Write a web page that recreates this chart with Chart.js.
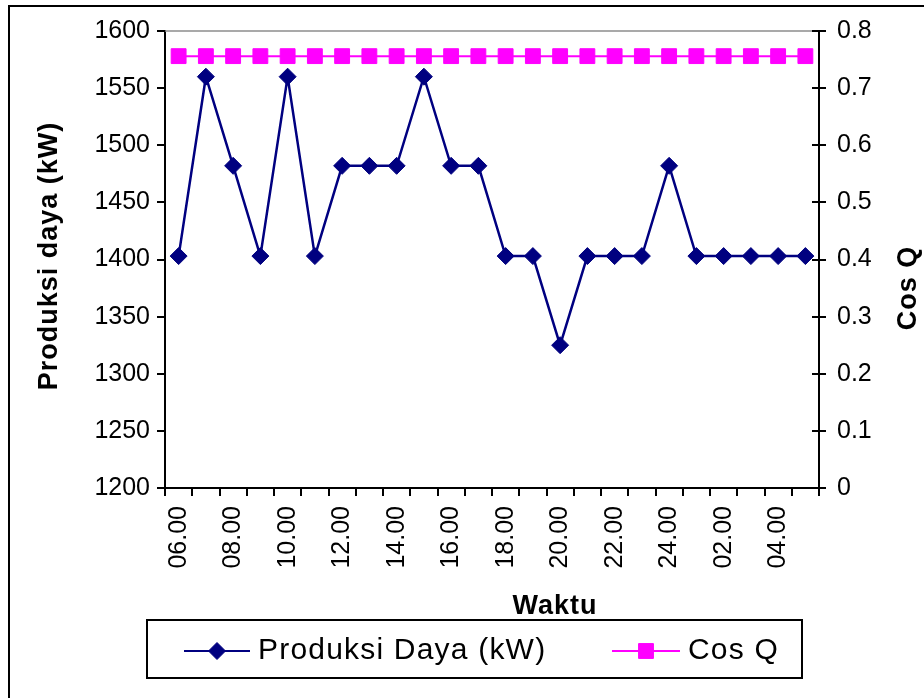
<!DOCTYPE html>
<html>
<head>
<meta charset="utf-8">
<title>Produksi Daya dan Cos Q</title>
<script src="https://cdn.jsdelivr.net/npm/chart.js@4/dist/chart.umd.min.js"></script>
<style>
  html, body { margin: 0; padding: 0; background: #ffffff; }
  #wrap { width: 924px; height: 698px; position: relative; }
</style>
</head>
<body>
<div id="wrap"><canvas id="chart" width="924" height="698"></canvas></div>
<script>
// Hourly time slots (06.00 through 05.00 the next morning)
const waktu = ['06.00','07.00','08.00','09.00','10.00','11.00','12.00','13.00',
               '14.00','15.00','16.00','17.00','18.00','19.00','20.00','21.00',
               '22.00','23.00','24.00','01.00','02.00','03.00','04.00','05.00'];

// Power production (kW)
const produksiDaya = [1403, 1560, 1482, 1403, 1560, 1403, 1482, 1482,
                      1482, 1560, 1482, 1482, 1403, 1403, 1325, 1403,
                      1403, 1403, 1482, 1403, 1403, 1403, 1403, 1403];

// Power factor
const cosQ = [0.756, 0.756, 0.756, 0.756, 0.756, 0.756, 0.756, 0.756,
              0.756, 0.756, 0.756, 0.756, 0.756, 0.756, 0.756, 0.756,
              0.756, 0.756, 0.756, 0.756, 0.756, 0.756, 0.756, 0.756];

// Axis ranges
const dayaMin = 1200, dayaMax = 1600, dayaStep = 50;
const cosMin = 0, cosMax = 0.8, cosStep = 0.1;

const FONT = "'Liberation Sans', Arial, Helvetica, sans-serif";
Chart.defaults.font.family = FONT;
Chart.defaults.color = '#000000';

function drawMarker(ctx, style, r, x, y) {
  if (style === 'rectRot') {
    ctx.moveTo(x - r, y);
    ctx.lineTo(x, y - r);
    ctx.lineTo(x + r, y);
    ctx.lineTo(x, y + r);
    ctx.closePath();
  } else {
    const s = Math.SQRT1_2 * r;
    ctx.rect(x - s, y - s, 2 * s, 2 * s);
  }
}

// Frame, top border, inner ticks on the right axis, axis titles and boxed legend
const decorPlugin = {
  id: 'decor',
  afterDraw(chart) {
    const ctx = chart.ctx;
    const area = chart.chartArea;
    ctx.save();

    // outer frame
    ctx.strokeStyle = '#000000';
    ctx.lineWidth = 2;
    ctx.strokeRect(9, 6, 940, 720);

    // grey top edge of the plot area
    ctx.strokeStyle = '#8c8c8c';
    ctx.lineWidth = 1.5;
    ctx.beginPath();
    ctx.moveTo(area.left, area.top);
    ctx.lineTo(area.right, area.top);
    ctx.stroke();

    // right axis ticks cross the axis line
    const y1 = chart.scales.y1;
    ctx.strokeStyle = '#000000';
    ctx.lineWidth = 2;
    ctx.beginPath();
    y1.ticks.forEach((t) => {
      const py = Math.round(y1.getPixelForValue(t.value));
      ctx.moveTo(area.right - 7, py);
      ctx.lineTo(area.right, py);
    });
    ctx.stroke();

    // axis titles
    ctx.fillStyle = '#000000';
    ctx.font = 'bold 27px ' + FONT;
    ctx.textAlign = 'center';
    ctx.textBaseline = 'middle';
    ctx.letterSpacing = '1px';
    ctx.fillText('Waktu', 555, 607);

    ctx.save();
    ctx.translate(50, 256);
    ctx.rotate(-Math.PI / 2);
    ctx.fillText('Produksi daya (kW)', 0, 0);
    ctx.restore();

    ctx.save();
    ctx.translate(909, 288);
    ctx.rotate(-Math.PI / 2);
    ctx.fillText('Cos Q', 0, 0);
    ctx.restore();

    // legend box
    ctx.strokeStyle = '#000000';
    ctx.lineWidth = 2;
    ctx.strokeRect(147, 620, 655, 58);

    const ly = 651;
    const entries = [
      { ds: chart.data.datasets[0], x0: 184, x1: 250, tx: 258 },
      { ds: chart.data.datasets[1], x0: 612, x1: 680, tx: 688 }
    ];
    entries.forEach((e) => {
      ctx.strokeStyle = e.ds.borderColor;
      ctx.lineWidth = 2;
      ctx.beginPath();
      ctx.moveTo(e.x0, ly);
      ctx.lineTo(e.x1, ly);
      ctx.stroke();
      const cx = (e.x0 + e.x1) / 2;
      ctx.fillStyle = e.ds.pointBackgroundColor;
      ctx.strokeStyle = e.ds.pointBorderColor;
      ctx.lineWidth = e.ds.pointBorderWidth;
      ctx.beginPath();
      drawMarker(ctx, e.ds.pointStyle, e.ds.pointRadius, cx, ly);
      ctx.fill();
      ctx.stroke();

      ctx.fillStyle = '#000000';
      ctx.font = '30px ' + FONT;
      ctx.letterSpacing = '1.2px';
      ctx.textAlign = 'left';
      ctx.textBaseline = 'middle';
      ctx.fillText(e.ds.label, e.tx, ly);
    });
    ctx.letterSpacing = '0px';

    ctx.restore();
  }
};

new Chart(document.getElementById('chart'), {
  type: 'line',
  data: {
    labels: waktu,
    datasets: [
      {
        label: 'Produksi Daya (kW)',
        data: produksiDaya,
        yAxisID: 'y',
        borderColor: '#000080',
        backgroundColor: '#000080',
        borderWidth: 2.5,
        pointStyle: 'rectRot',
        pointRadius: 8.5,
        pointBorderWidth: 1,
        pointBackgroundColor: '#000080',
        pointBorderColor: '#000080',
        tension: 0
      },
      {
        label: 'Cos Q',
        data: cosQ,
        yAxisID: 'y1',
        borderColor: '#ff00ff',
        backgroundColor: '#ff00ff',
        borderWidth: 2,
        pointStyle: 'rect',
        pointRadius: 10.5,
        pointBorderWidth: 1,
        pointBackgroundColor: '#ff00ff',
        pointBorderColor: '#ff00ff',
        tension: 0
      }
    ]
  },
  options: {
    responsive: false,
    animation: false,
    layout: { padding: { top: 31, left: 0, right: 0, bottom: 0 } },
    plugins: {
      legend: { display: false },
      title: { display: false },
      tooltip: { enabled: false }
    },
    scales: {
      x: {
        type: 'category',
        offset: true,
        grid: {
          display: true,
          offset: true,
          drawOnChartArea: false,
          drawTicks: true,
          tickLength: 8,
          color: '#000000',
          lineWidth: 2
        },
        border: { display: true, color: '#000000', width: 2 },
        ticks: {
          autoSkip: false,
          minRotation: 90,
          maxRotation: 90,
          padding: 10,
          font: { size: 25 },
          color: '#000000',
          callback: (value, index) => (index % 2 === 0 ? waktu[index] : '')
        },
        afterFit: (scale) => { scale.height = 210; }
      },
      y: {
        position: 'left',
        min: dayaMin,
        max: dayaMax,
        grid: {
          display: true,
          drawOnChartArea: false,
          drawTicks: true,
          tickLength: 8,
          color: '#000000',
          lineWidth: 2
        },
        border: { display: true, color: '#000000', width: 2 },
        ticks: {
          stepSize: dayaStep,
          padding: 7,
          font: { size: 25 },
          color: '#000000',
          callback: (v) => String(Math.round(v))
        },
        afterFit: (scale) => { scale.width = 165; }
      },
      y1: {
        position: 'right',
        min: cosMin,
        max: cosMax,
        grid: {
          display: true,
          drawOnChartArea: false,
          drawTicks: true,
          tickLength: 7,
          color: '#000000',
          lineWidth: 2
        },
        border: { display: true, color: '#000000', width: 2 },
        ticks: {
          stepSize: cosStep,
          padding: 11,
          font: { size: 25 },
          color: '#000000',
          callback: (v) => (Math.abs(v) < 1e-9 ? '0' : Number(v).toFixed(1))
        },
        afterFit: (scale) => { scale.width = 105; }
      }
    }
  },
  plugins: [decorPlugin]
});
</script>
</body>
</html>
